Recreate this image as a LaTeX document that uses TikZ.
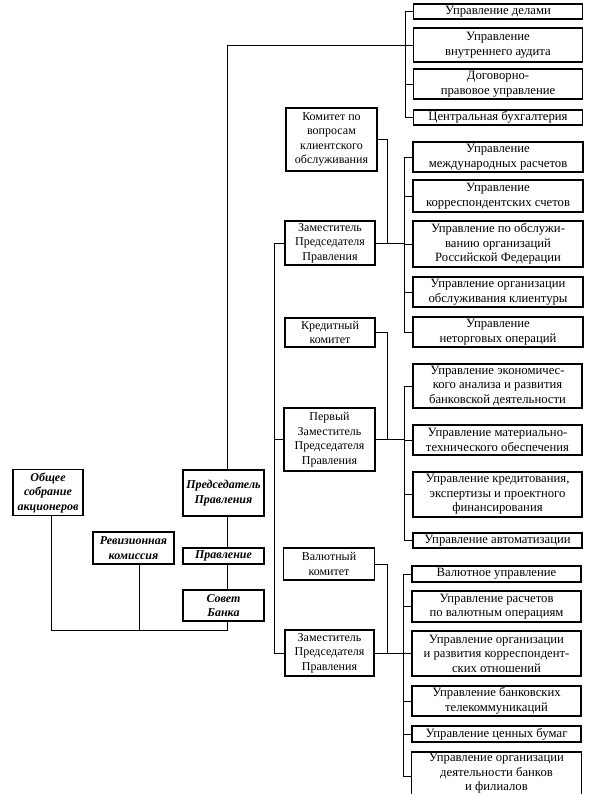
\documentclass[tikz,border=0pt]{standalone}
\usepackage{fontspec}
\setmainfont{Liberation Serif}
\begin{document}
\begin{tikzpicture}[x=1pt,y=-1pt,
  box/.style={draw, line width=1.1pt, inner sep=0pt, align=center,
    font=\fontsize{12}{14.5}\selectfont},
  rbox/.style={box, font=\fontsize{12.7}{14.5}\selectfont},
  lbox/.style={box, font=\fontsize{12}{14.5}\selectfont\bfseries\itshape},
  conn/.style={line width=0.9pt}]
\useasboundingbox (0,0) rectangle (600,794);
% left column
\node[lbox, minimum width=70pt, minimum height=46pt] (obs) at (48,492.5) {Общее\\собрание\\акционеров};
\node[lbox, minimum width=81pt, minimum height=32pt] (rev) at (133.5,548) {Ревизионная\\комиссия};
\node[lbox, minimum width=81pt, minimum height=46pt] (pred) at (223.5,493) {Председатель\\Правления};
\node[lbox, minimum width=81pt, minimum height=16pt] (prav) at (223.5,556) {Правление};
\node[lbox, minimum width=81pt, minimum height=31pt] (sov) at (223.5,605.5) {Совет\\Банка};
\coordinate (xo) at (51.5,0);
\coordinate (xr) at (139,0);
\coordinate (xp) at (227,0);
\coordinate (ybot) at (0,630);
% middle column
\node[box, minimum width=91pt, minimum height=63pt] (kom) at (331.5,139.5) {Комитет по\\вопросам\\клиентского\\обслуживания};
\node[box, minimum width=90pt, minimum height=44pt] (zam1) at (330,243) {Заместитель\\Председателя\\Правления};
\node[box, minimum width=90pt, minimum height=29pt] (kred) at (330,332.5) {Кредитный\\комитет};
\node[box, minimum width=91pt, minimum height=63pt] (perv) at (329.5,439.5) {Первый\\Заместитель\\Председателя\\Правления};
\node[box, minimum width=91pt, minimum height=32pt] (val) at (329,564) {Валютный\\комитет};
\node[box, minimum width=89pt, minimum height=46pt] (zam2) at (329.5,653) {Заместитель\\Председателя\\Правления};
\coordinate (sR) at (274,0);
\coordinate (cJ) at (387,0);
% right column group A
\node[rbox, minimum width=169pt, minimum height=15pt] (a1) at (498,11.5) {Управление делами};
\node[rbox, minimum width=169pt, minimum height=34pt] (a2) at (498,45) {Управление\\внутреннего аудита};
\node[rbox, minimum width=169pt, minimum height=30pt] (a3) at (498,84) {Договорно-\\правовое управление};
\node[rbox, minimum width=169pt, minimum height=15pt] (a4) at (498,117.5) {Центральная бухгалтерия};
\coordinate (bA) at (405,0);
% group B
\node[rbox, minimum width=170pt, minimum height=30pt] (b1) at (498,157) {Управление\\международных расчетов};
\node[rbox, minimum width=170pt, minimum height=32pt] (b2) at (498,196) {Управление\\корреспондентских счетов};
\node[rbox, minimum width=170pt, minimum height=46pt] (b3) at (498,244) {Управление по обслужи-\\ванию организаций\\Российской Федерации};
\node[rbox, minimum width=170pt, minimum height=30pt] (b4) at (498,292) {Управление организации\\обслуживания клиентуры};
\node[rbox, minimum width=170pt, minimum height=30pt] (b5) at (498,332) {Управление\\неторговых операций};
\coordinate (bB) at (404,0);
% group C
\node[rbox, minimum width=169pt, minimum height=44pt] (c1) at (497.5,386) {Управление экономичес-\\кого анализа и развития\\банковской деятельности};
\node[rbox, minimum width=169pt, minimum height=30pt] (c2) at (497.5,440) {Управление материально-\\технического обеспечения};
\node[rbox, minimum width=169pt, minimum height=45pt] (c3) at (497.5,494.5) {Управление кредитования,\\экспертизы и проектного\\финансирования};
\node[rbox, minimum width=169pt, minimum height=15pt] (c4) at (497.5,540.5) {Управление автоматизации};
% group D
\node[rbox, minimum width=169pt, minimum height=16pt] (d1) at (496.5,574) {Валютное управление};
\node[rbox, minimum width=169pt, minimum height=31pt] (d2) at (496.5,606.5) {Управление расчетов\\по валютным операциям};
\node[rbox, minimum width=169pt, minimum height=45pt] (d3) at (496.5,653.5) {Управление организации\\и развития корреспондент-\\ских отношений};
\node[rbox, minimum width=169pt, minimum height=30pt] (d4) at (496.5,701) {Управление банковских\\телекоммуникаций};
\node[rbox, minimum width=169pt, minimum height=16pt] (d5) at (496.5,734) {Управление ценных бумаг};
\node[rbox, draw=none, minimum width=169pt, minimum height=40pt, anchor=north] (d6) at (496.5,753) {Управление организации\\деятельности банков\\и филиалов};
\draw[line width=1.1pt] (d6.west |- 0,810) -- (d6.west |- 0,752) -- (d6.east |- 0,752) -- (d6.east |- 0,810);
\coordinate (bD) at (403,0);
% left connectors
\draw[conn] (obs.south -| xo) -- (ybot -| xo) -- (ybot -| xp) -- (sov.south -| xp);
\draw[conn] (rev.south -| xr) -- (ybot -| xr);
\draw[conn] (sov.north -| xp) -- (prav.south -| xp);
\draw[conn] (prav.north -| xp) -- (pred.south -| xp);
\draw[conn] (pred.north -| xp) |- (a2.west);
% group A bracket
\draw[conn] (a1.west -| bA) -- (a4.west -| bA);
\foreach \n in {a1,a3,a4} \draw[conn] (\n.west -| bA) -- (\n.west);
% long spine
\draw[conn] (zam1.west) -- (zam1.west -| sR) -- (zam2.west -| sR) -- (zam2.west);
\draw[conn] (perv.west) -- (perv.west -| sR);
% committees
\draw[conn] (kom.east) -| (zam1.east -| cJ);
\draw[conn] (kred.east) -| (perv.east -| cJ);
\draw[conn] (val.east) -| (zam2.east -| cJ);
% group B
\draw[conn] (zam1.east) -- (zam1.east -| bB);
\draw[conn] (b1.west -| bB) -- (b5.west -| bB);
\foreach \n in {b1,b2,b3,b4,b5} \draw[conn] (\n.west -| bB) -- (\n.west);
% group C
\draw[conn] (perv.east) -- (perv.east -| bB);
\draw[conn] (c1.west -| bB) -- (c4.west -| bB);
\foreach \n in {c1,c2,c3,c4} \draw[conn] (\n.west -| bB) -- (\n.west);
% group D
\coordinate (d6s) at (0,776);
\draw[conn] (zam2.east) -- (zam2.east -| bD);
\draw[conn] (d1.west -| bD) -- (d6s -| bD);
\foreach \n in {d1,d2,d3,d4,d5} \draw[conn] (\n.west -| bD) -- (\n.west);
\draw[conn] (d6s -| bD) -- (d6s -| d6.west);
\end{tikzpicture}
\end{document}
